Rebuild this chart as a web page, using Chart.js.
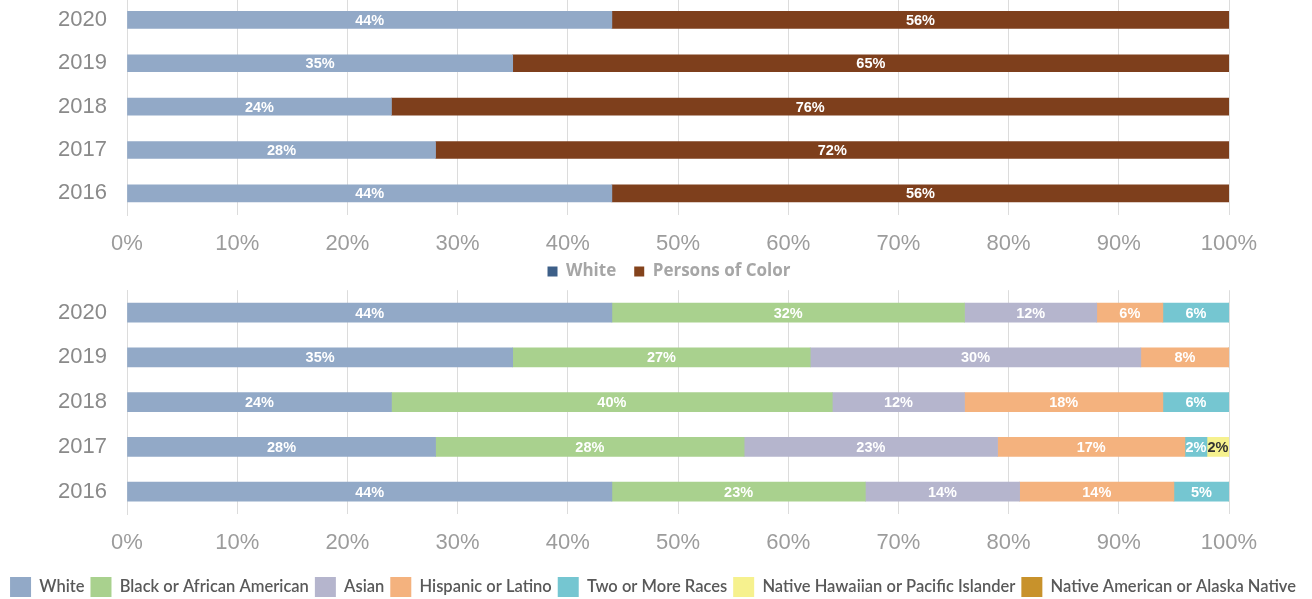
<!DOCTYPE html>
<html>
<head>
<meta charset="utf-8">
<script src="https://cdn.jsdelivr.net/npm/chart.js@4"></script>
<style>
html, body { margin: 0; padding: 0; background: #fff; width: 1312px; height: 599px; overflow: hidden; }
#topWrap { position: absolute; left: 0; top: -15px; width: 1312px; height: 315px; }
#bottomWrap { position: absolute; left: 0; top: 277px; width: 1312px; height: 330px; }
</style>
</head>
<body>
<div id="topWrap"><canvas id="topChart"></canvas></div>
<div id="bottomWrap"><canvas id="bottomChart"></canvas></div>
<script>
// ---------------------------
// Data
// ---------------------------
const years = ['2020', '2019', '2018', '2017', '2016'];

// top chart: White vs Persons of Color
const whiteShare = [44, 35, 24, 28, 44];
const colorShare = [56, 65, 76, 72, 56];

// bottom chart: breakdown by race
const raceNames = ['White', 'Black or African American', 'Asian', 'Hispanic or Latino',
    'Two or More Races', 'Native Hawaiian or Pacific Islander', 'Native American or Alaska Native'];
const white     = [44, 35, 24, 28, 44];
const black     = [32, 27, 40, 28, 23];
const asian     = [12, 30, 12, 23, 14];
const hispanic  = [6, 8, 18, 17, 14];
const twoOrMore = [6, 0, 6, 2, 5];
const hawaiian  = [0, 0, 0, 2, 0];
const nativeAm  = [0, 0, 0, 0, 0];

const xTickStep = 10;

// ---------------------------
// Styles
// ---------------------------
const raceColors = ['#92a9c7', '#a9d18e', '#b5b5cd', '#f4b27e', '#75c6d1', '#f6f18e', '#c8922b'];
const topColors = ['#92a9c7', '#7e3f1c'];
const topLegendColors = ['#3d5f88', '#84431c'];

const tickFont = { family: '"Liberation Sans", Arial, sans-serif', size: 22 };

// % labels in the middle of each segment
const barLabels = {
    id: 'barLabels',
    afterDatasetsDraw(chart) {
        const ctx = chart.ctx;
        ctx.save();
        ctx.font = 'bold 14.5px "Liberation Sans", Arial, sans-serif';
        ctx.textAlign = 'center';
        ctx.textBaseline = 'middle';
        chart.data.datasets.forEach((ds, i) => {
            const meta = chart.getDatasetMeta(i);
            meta.data.forEach((bar, j) => {
                const v = ds.data[j];
                if (!v) return;
                ctx.fillStyle = ds.labelColor || '#fff';
                ctx.fillText(v + '%', (bar.x + bar.base) / 2, bar.y + 1);
            });
        });
        ctx.restore();
    }
};

// nudge the legend box after layout
const legendOffset = {
    id: 'legendOffset',
    afterLayout(chart, args, opts) {
        const lg = chart.legend;
        if (!lg) return;
        const dx = opts.dx || 0, dy = opts.dy || 0;
        lg.left += dx; lg.right += dx;
        lg.top += dy; lg.bottom += dy;
    }
};

function scales(xHeight) {
    return {
        x: {
            stacked: true, min: 0, max: 100,
            grid: { color: '#dcdcdc', drawTicks: false },
            border: { display: false },
            ticks: { stepSize: xTickStep, padding: 16, color: '#9c9c9c', font: tickFont, callback: v => v + '%' },
            afterFit(scale) { scale.height = xHeight; }
        },
        y: {
            stacked: true,
            grid: { display: false, drawTicks: true, tickLength: 20 },
            border: { display: true, color: '#dcdcdc' },
            ticks: { padding: 0, color: '#8a8a8a', font: tickFont },
            afterFit(scale) { scale.width = 127; }
        },
        // empty axis on the right, keeps the plot clear of the right edge
        pad: {
            type: 'linear', axis: 'y', position: 'right',
            grid: { display: false }, border: { display: false }, ticks: { display: false },
            afterFit(scale) { scale.width = 83; }
        }
    };
}

// ---------------------------
// Top chart
// ---------------------------
new Chart(document.getElementById('topChart'), {
    type: 'bar',
    data: {
        labels: years,
        datasets: [
            { label: 'White', data: whiteShare, backgroundColor: topColors[0], barThickness: 17 },
            { label: 'Persons of Color', data: colorShare, backgroundColor: topColors[1], barThickness: 17 }
        ]
    },
    options: {
        indexAxis: 'y',
        responsive: true,
        maintainAspectRatio: false,
        animation: false,
        layout: { padding: 0 },
        scales: scales(40),
        plugins: {
            tooltip: { enabled: false },
            legendOffset: { dx: 13, dy: -10 },
            legend: {
                position: 'bottom',
                labels: {
                    boxWidth: 10, boxHeight: 10, padding: 18,
                    color: '#a6a6a6',
                    font: { family: '"Open Sans", sans-serif', size: 17, weight: 'bold' },
                    generateLabels(chart) {
                        return chart.data.datasets.map((ds, i) => ({
                            text: ds.label, fillStyle: topLegendColors[i], strokeStyle: topLegendColors[i],
                            lineWidth: 0, hidden: false, datasetIndex: i, fontColor: '#a6a6a6'
                        }));
                    }
                }
            }
        }
    },
    plugins: [barLabels, legendOffset]
});

// ---------------------------
// Bottom chart
// ---------------------------
const raceData = [white, black, asian, hispanic, twoOrMore, hawaiian, nativeAm];

new Chart(document.getElementById('bottomChart'), {
    type: 'bar',
    data: {
        labels: years,
        datasets: raceNames.map((name, i) => ({
            label: name,
            data: raceData[i],
            backgroundColor: raceColors[i],
            barThickness: 19,
            labelColor: i === 5 ? '#333' : '#fff'
        }))
    },
    options: {
        indexAxis: 'y',
        responsive: true,
        maintainAspectRatio: false,
        animation: false,
        layout: { padding: 0 },
        scales: scales(57),
        plugins: {
            tooltip: { enabled: false },
            legendOffset: { dx: -3, dy: 0 },
            legend: {
                position: 'bottom',
                labels: {
                    boxWidth: 21, boxHeight: 20, padding: 6,
                    color: '#595959',
                    font: { family: 'Lato, sans-serif', size: 16.5, weight: '600' }
                }
            }
        }
    },
    plugins: [barLabels, legendOffset]
});
</script>
</body>
</html>
